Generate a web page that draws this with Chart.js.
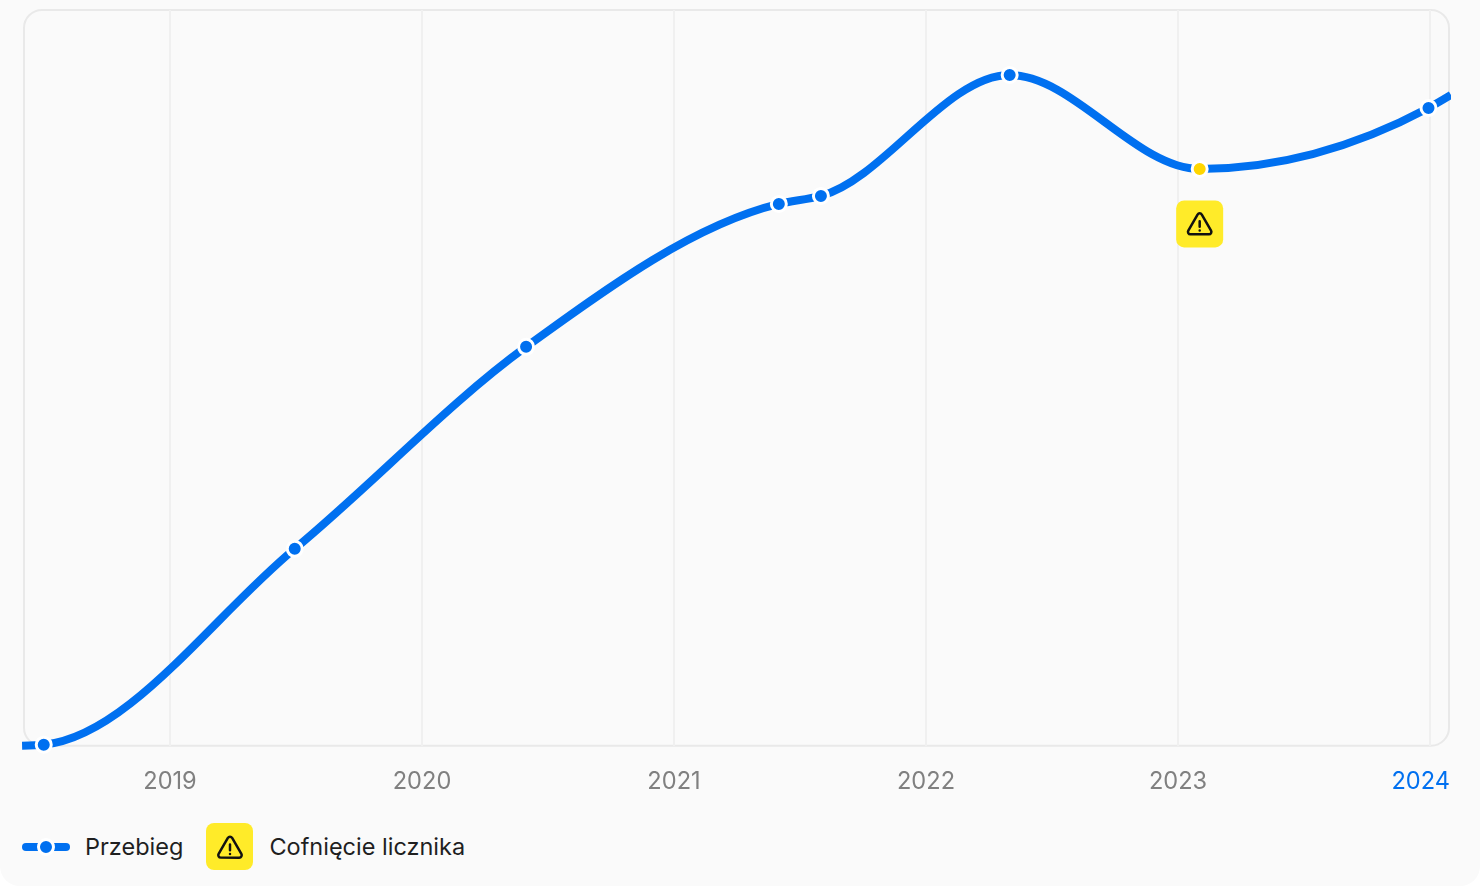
<!DOCTYPE html>
<html lang="pl">
<head>
<meta charset="utf-8">
<title>Przebieg</title>
<script src="https://cdn.jsdelivr.net/npm/chart.js@4"></script>
<style>
  html, body { margin: 0; padding: 0; background: #fff; }
  #card { position: relative; width: 1480px; height: 886px; background: #fafafa; border-radius: 0 0 20px 20px; overflow: hidden; font-family: Inter, sans-serif; }
  #wrap { position: absolute; left: 0; top: 0; width: 1480px; height: 818px; }
  #legend { position: absolute; left: 22px; top: 823px; height: 47px; display: flex; align-items: center; font-size: 23.5px; color: #1f1f1f; }
  #legend svg { display: block; }
  .label1 { margin-left: 15px; margin-right: 23px; }
  .label2 { margin-left: 16px; }
  .badge { width: 47px; height: 47px; border-radius: 8px; background: #ffeb29; display: flex; align-items: center; justify-content: center; }
</style>
</head>
<body>
<div id="card">
  <div id="wrap"><canvas id="chart"></canvas></div>
  <div id="legend">
    <svg width="48" height="18" viewBox="0 0 48 18">
      <line x1="4" y1="9" x2="44" y2="9" stroke="#0070f0" stroke-width="8" stroke-linecap="round"/>
      <circle cx="24" cy="9" r="7.5" fill="#0070f0" stroke="#fff" stroke-width="3"/>
    </svg>
    <span class="label1">Przebieg</span>
    <div class="badge">
      <svg width="30" height="30" viewBox="0 0 24 23" fill="none" stroke="#111" stroke-width="2" stroke-linecap="round" stroke-linejoin="round">
        <path d="M10.3 4.2 2.9 17a2 2 0 0 0 1.7 3h14.8a2 2 0 0 0 1.7-3L13.7 4.2a2 2 0 0 0-3.4 0Z"/>
        <path d="M12 9.5v4.5M12 17h.01"/>
      </svg>
    </div>
    <span class="label2">Cofnięcie licznika</span>
  </div>
</div>
<script>
// odczyty z wykresu (rok dziesietny, przebieg w km)
var readingDates = [2018.413, 2018.499, 2019.495, 2020.413, 2021.416, 2021.583, 2022.332, 2023.086, 2023.994, 2024.083]
var mileage = [0, 250, 49250, 99750, 135500, 137500, 167750, 144250, 159500, 162750]
// 0 = koniec linii bez znacznika, 1 = odczyt, 2 = cofniecie licznika
var pointKinds = [0, 1, 1, 1, 1, 1, 1, 2, 1, 0]
var yearTicks = [2019, 2020, 2021, 2022, 2023, 2024]

var BLUE = '#0070f0'
var warningIcon = new Path2D('M10.3 4.2 2.9 17a2 2 0 0 0 1.7 3h14.8a2 2 0 0 0 1.7-3L13.7 4.2a2 2 0 0 0-3.4 0Z')
var warningMark = new Path2D('M12 9.5v4.5M12 17h.01')

var points = readingDates.map(function(d, i){ return {x: d, y: mileage[i]} })

// ramka wykresu pod siatka, z zaokraglonymi rogami
var framePlugin = {
  id: 'frame',
  beforeDraw: function(chart){
    var a = chart.chartArea
    var ctx = chart.ctx
    ctx.save()
    ctx.strokeStyle = '#e9e9e9'
    ctx.lineWidth = 2
    ctx.beginPath()
    ctx.roundRect(a.left + 2, a.top, a.width - 4, a.height, 18)
    ctx.stroke()
    ctx.restore()
    // etykieta 2024 wyrownana do prawej krawedzi
    var items = chart.scales.x.getLabelItems()
    var last = items[items.length - 1]
    last.options.textAlign = 'right'
    last.options.translation[0] = a.right - 1
  }
}

// styczne jak w krzywej monotonicznej po osi x, liczone na pikselach punktow
var monotoneXPlugin = {
  id: 'monotoneX',
  afterDatasetsUpdate: function(chart){
    var meta = chart.getDatasetMeta(0)
    var pts = meta.data
    var n = pts.length
    meta.dataset.updateControlPoints(chart.chartArea, 'x')
    var slopes = []
    for(var i = 1; i < n - 1; i++){
      var h0 = pts[i].x - pts[i - 1].x
      var h1 = pts[i + 1].x - pts[i].x
      var s0 = (pts[i].y - pts[i - 1].y) / h0
      var s1 = (pts[i + 1].y - pts[i].y) / h1
      var p = (s0 * h1 + s1 * h0) / (h0 + h1)
      slopes[i] = (Math.sign(s0) + Math.sign(s1)) * Math.min(Math.abs(s0), Math.abs(s1), 0.5 * Math.abs(p))
    }
    slopes[0] = (3 * (pts[1].y - pts[0].y) / (pts[1].x - pts[0].x) - slopes[1]) / 2
    slopes[n - 1] = (3 * (pts[n - 1].y - pts[n - 2].y) / (pts[n - 1].x - pts[n - 2].x) - slopes[n - 2]) / 2
    for(var j = 0; j < n - 1; j++){
      var dx = (pts[j + 1].x - pts[j].x) / 3
      pts[j].cp2x = pts[j].x + dx
      pts[j].cp2y = pts[j].y + dx * slopes[j]
      pts[j + 1].cp1x = pts[j + 1].x - dx
      pts[j + 1].cp1y = pts[j + 1].y - dx * slopes[j + 1]
    }
  }
}

// znacznik ostrzezenia pod punktem cofniecia licznika
var warningPlugin = {
  id: 'warning',
  afterDatasetsDraw: function(chart){
    var ctx = chart.ctx
    var meta = chart.getDatasetMeta(0)
    pointKinds.forEach(function(kind, i){
      if(kind !== 2) return
      var p = meta.data[i]
      ctx.save()
      ctx.translate(p.x, p.y + 55)
      ctx.fillStyle = '#ffeb29'
      ctx.beginPath()
      ctx.roundRect(-23.5, -23.5, 47, 47, 8)
      ctx.fill()
      ctx.scale(30 / 24, 30 / 24)
      ctx.translate(-12, -11.7)
      ctx.strokeStyle = '#111'
      ctx.lineWidth = 2
      ctx.lineCap = 'round'
      ctx.lineJoin = 'round'
      ctx.stroke(warningIcon)
      ctx.stroke(warningMark)
      ctx.restore()
    })
  }
}

new Chart('chart', {
  type: 'line',
  data: {
    datasets: [{
      label: 'Przebieg',
      data: points,
      borderColor: BLUE,
      borderWidth: 8,
      cubicInterpolationMode: 'monotone',
      pointRadius: pointKinds.map(function(k){ return k ? 7.5 : 0 }),
      pointBorderWidth: 3,
      pointBorderColor: '#fff',
      pointBackgroundColor: pointKinds.map(function(k){ return k === 2 ? '#ffd600' : BLUE }),
      clip: {left: 0, right: 0, top: false, bottom: false}
    }]
  },
  options: {
    responsive: true,
    maintainAspectRatio: false,
    animation: false,
    layout: { padding: {left: 22, right: 29, top: 10, bottom: 0} },
    plugins: { legend: {display: false}, tooltip: {enabled: false} },
    scales: {
      x: {
        type: 'linear',
        min: 2018.4127,
        max: 2024.0833,
        afterBuildTicks: function(axis){
          axis.ticks = yearTicks.map(function(y){ return {value: y} })
        },
        afterFit: function(axis){
          axis.paddingLeft = 0
          axis.paddingRight = 0
        },
        grid: { color: '#f0f0f0', lineWidth: 2, drawTicks: false },
        border: { display: false },
        ticks: {
          autoSkip: false,
          maxRotation: 0,
          padding: 22,
          font: {family: 'Inter', size: 23.6},
          color: function(c){ return c.tick && c.tick.value === 2024 ? BLUE : '#808080' },
          callback: function(v){ return String(v) }
        }
      },
      y: { display: false, min: 0, max: 184000 }
    }
  },
  plugins: [framePlugin, monotoneXPlugin, warningPlugin]
})
</script>
</body>
</html>
